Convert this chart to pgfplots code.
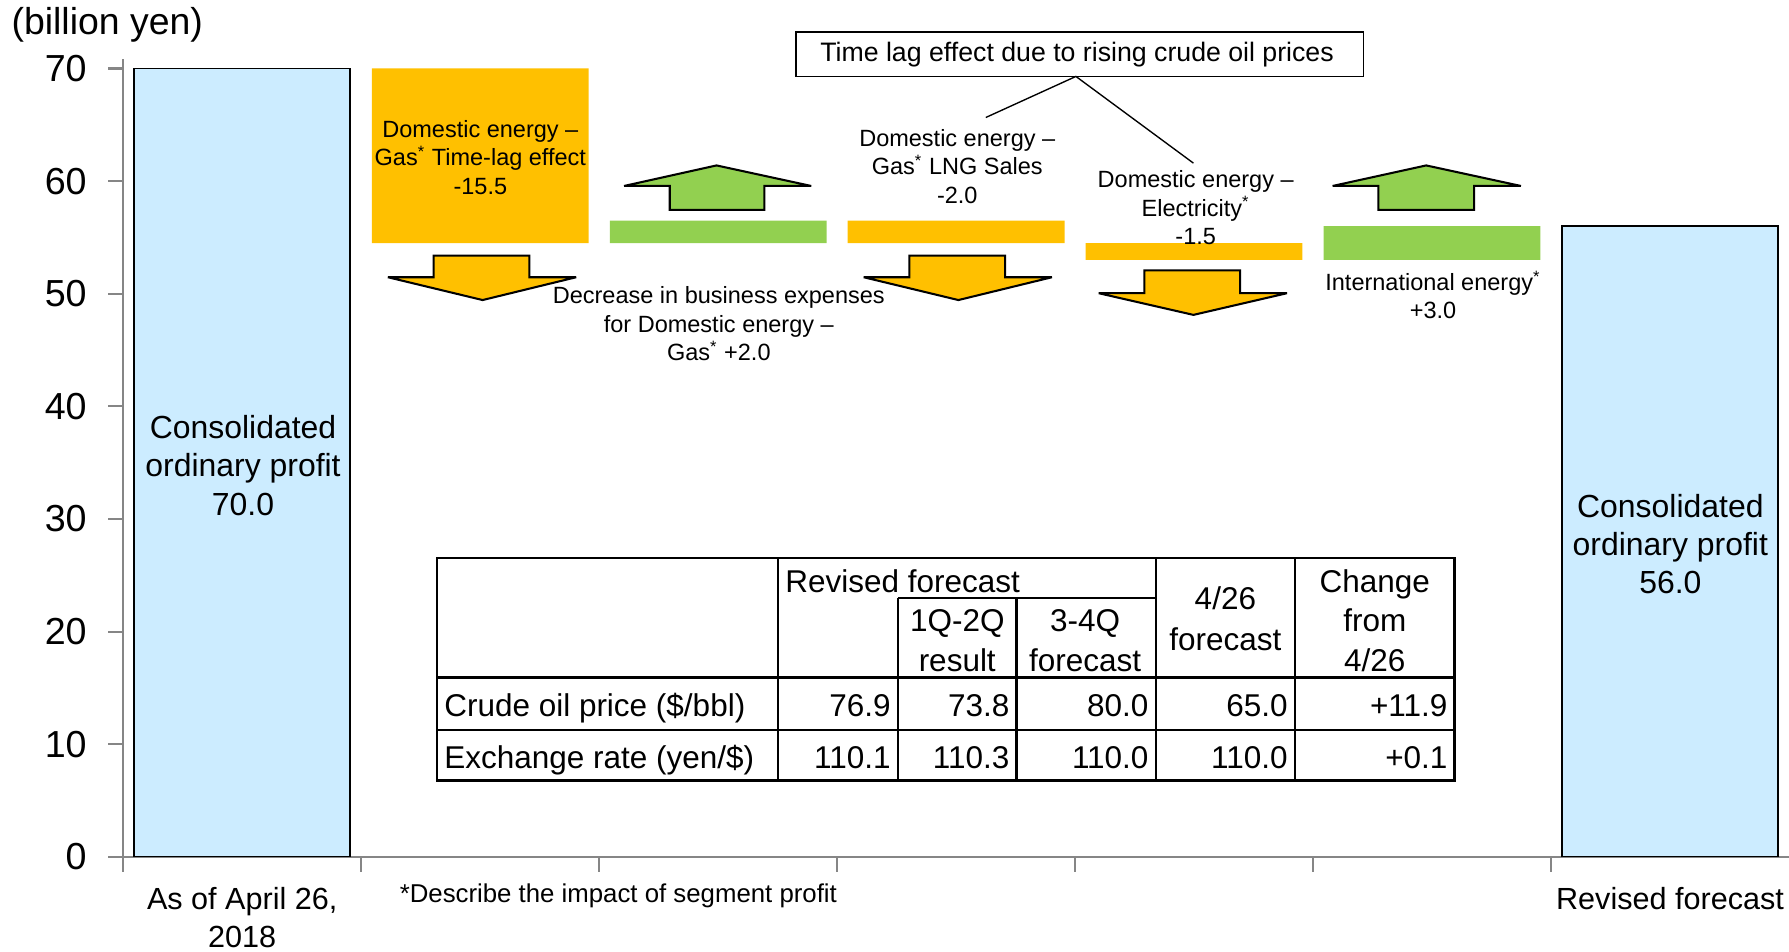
\documentclass[border=0pt]{standalone}
\usepackage{fontspec}
\setmainfont{Liberation Sans}
\usepackage{pgfplots}
\pgfplotsset{compat=1.18}
\definecolor{barblue}{HTML}{CCECFF}
\definecolor{barorange}{HTML}{FFC000}
\definecolor{bargreen}{HTML}{92D050}
\definecolor{axgray}{HTML}{868686}
\newcommand{\fs}[2]{\fontsize{#1}{#2}\selectfont}

\begin{document}
\begin{tikzpicture}
\useasboundingbox (-54pt,-41.5pt) rectangle (730pt,375.5pt);
\pgfplotsset{common/.style={scale only axis, width=730pt, height=349.43pt,
  xmin=-0.5, xmax=6.5, ymin=0, ymax=70.8, at={(0pt,0pt)}, anchor=south west}}

% floating (waterfall) bars: invisible base + visible change
\begin{axis}[common, hide axis, ybar stacked, bar width=95pt]
\addplot[fill=none, draw=none] coordinates {(1,54.5) (2,54.5) (3,54.5) (4,53) (5,53)};
\addplot[fill=barorange, draw=none] coordinates {(1,15.5) (2,0) (3,2.0) (4,1.5) (5,0)};
\addplot[fill=bargreen, draw=none] coordinates {(1,0) (2,2.0) (3,0) (4,0) (5,3.0)};
\end{axis}

% totals and axes
\begin{axis}[common, ybar, bar width=94.5pt, bar shift=0pt,
  axis x line*=bottom, axis y line*=left,
  axis line style={axgray, line width=0.9pt, -},
  tick style={axgray, line width=0.9pt},
  tick align=outside, major tick length=6.5pt,
  ytick={0,10,...,70},
  yticklabel style={font=\fs{16.5}{18}, /pgf/number format/assume math mode=true, xshift=-6pt},
  xtick={-0.5,0.5,...,5.5}, xticklabels={,,,,,,},
  extra x ticks={0,6},
  extra x tick labels={{As of April 26,\\2018},{Revised forecast}},
  extra x tick style={major tick length=0pt,
    tick label style={font=\fs{13.4}{16.6}, align=center, anchor=north, yshift=-10pt}},
]
\addplot[fill=barblue, draw=black, line width=0.8pt] coordinates {(0,70.0) (6,56.0)};
\end{axis}

\begin{scope}[x={(0.5pt,0pt)}, y={(0pt,-0.5pt)}, shift={(-54pt,375.5pt)}]
% unit label
\node[font=\fs{16.4}{18}, inner sep=0] at (94,22) {(billion yen)};
% total labels
\node[font=\fs{14}{16.75}, align=center, inner sep=0] at (213,408) {Consolidated\\ordinary profit\\70.0};
\node[font=\fs{14}{16.75}, align=center, inner sep=0] at (1464,477) {Consolidated\\ordinary profit\\56.0};
% arrows
\begin{scope}[line width=0.9pt, line join=miter, miter limit=1.5, draw=black]
\filldraw[fill=barorange] (380,224)--(464,224)--(464,243)--(505,243)--(423,263)--(340,243)--(380,243)--cycle;
\filldraw[fill=barorange] (797,224)--(881,224)--(881,243)--(922,243)--(840,263)--(757,243)--(797,243)--cycle;
\filldraw[fill=barorange] (1003,237)--(1087,237)--(1087,257)--(1128,257)--(1046,276)--(963,257)--(1003,257)--cycle;
\filldraw[fill=bargreen] (587,184)--(670,184)--(670,163)--(711,163)--(628,145)--(547,163)--(587,163)--cycle;
\filldraw[fill=bargreen] (1208,184)--(1292,184)--(1292,163)--(1333,163)--(1250,145)--(1168,163)--(1208,163)--cycle;
\end{scope}
% change labels
\begin{scope}[every node/.style={font=\fs{10.3}{12.5}, align=center, inner sep=0}]
\node at (421,138) {Domestic energy –\\Gas\textsuperscript{*} Time-lag effect\\-15.5};
\node at (630,284) {Decrease in business expenses\\for Domestic energy –\\Gas\textsuperscript{*} +2.0};
\node at (839,146) {Domestic energy –\\Gas\textsuperscript{*} LNG Sales\\-2.0};
\node at (1048,182) {Domestic energy –\\Electricity\textsuperscript{*}\\-1.5};
\node at (1256,258.5) {International energy\textsuperscript{*}\\+3.0};
\end{scope}
% time lag box
\draw[line width=0.8pt, fill=white] (698,28) rectangle (1195,67);
\node[font=\fs{11.7}{14}, inner sep=0] at (944,48) {Time lag effect due to rising crude oil prices};
\draw[line width=0.6pt] (864,103)--(943,67)--(1046,143);
% footnote
\node[font=\fs{11.3}{13}, anchor=west, inner sep=0] at (350,785) {*Describe the impact of segment profit};
% table
\draw[line width=1.1pt, fill=white] (383,489) rectangle (1275,684);
\draw[line width=1.1pt] (682,489)--(682,684) (1013,489)--(1013,684) (1135,489)--(1135,684)
  (787,524)--(787,684) (891,524)--(891,684) (787,524)--(1013,524)
  (383,594)--(1275,594) (383,640)--(1275,640);
\begin{scope}[every node/.style={font=\fs{13.8}{16}, inner sep=0, text height=9.9pt, text depth=0pt}]
\node[anchor=west] at (688,509) {Revised forecast};
\node at (839,544) {1Q-2Q}; \node at (839,579) {result};
\node at (951,544) {3-4Q}; \node at (951,579) {forecast};
\node at (1074,524) {4/26}; \node at (1074,560) {forecast};
\node at (1205,509) {Change}; \node at (1205,544) {from}; \node at (1205,579) {4/26};
\node[anchor=west] at (389,618) {Crude oil price (\$/bbl)};
\node[anchor=west] at (389,664) {Exchange rate (yen/\$)};
\node[anchor=east] at (781,618) {76.9};
\node[anchor=east] at (885,618) {73.8};
\node[anchor=east] at (1007,618) {80.0};
\node[anchor=east] at (1129,618) {65.0};
\node[anchor=east] at (1269,618) {+11.9};
\node[anchor=east] at (781,664) {110.1};
\node[anchor=east] at (885,664) {110.3};
\node[anchor=east] at (1007,664) {110.0};
\node[anchor=east] at (1129,664) {110.0};
\node[anchor=east] at (1269,664) {+0.1};
\end{scope}
\end{scope}
\end{tikzpicture}
\end{document}
